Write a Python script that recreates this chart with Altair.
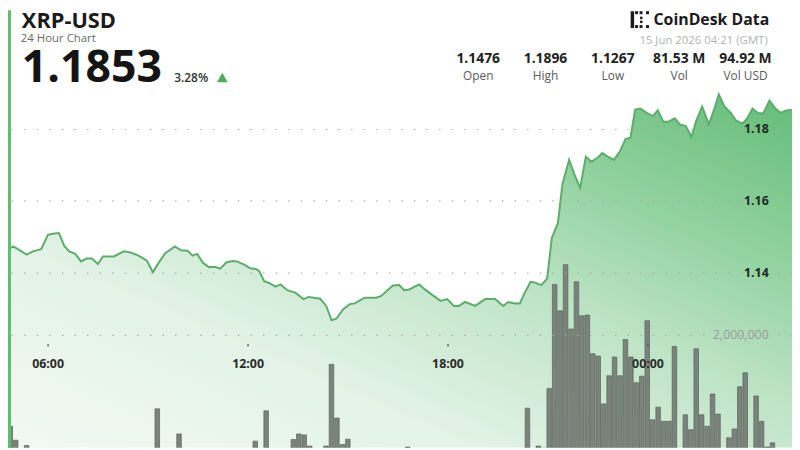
import altair as alt
import pandas as pd

# ---------------- data ----------------
# price line: hours since 00:00 on 14 Jun (values > 24 are 15 Jun)
PRICE_HOURS = [4.35, 4.77, 4.97, 5.17, 5.37, 5.56, 5.81, 6.01, 6.16, 6.34, 6.50, 6.65,
               6.83, 7.00, 7.17, 7.33, 7.51, 7.66, 7.99, 8.29, 8.49, 8.73, 8.98, 9.16,
               9.33, 9.53, 9.82, 10.00, 10.20, 10.35, 10.49, 10.66, 10.84, 11.01, 11.18, 11.36,
               11.55, 11.68, 11.90, 12.08, 12.25, 12.35, 12.50, 12.67, 12.84, 12.99, 13.19, 13.43,
               13.68, 13.83, 14.18, 14.36, 14.52, 14.67, 14.87, 15.07, 15.22, 15.51, 15.86, 16.01,
               16.36, 16.55, 16.70, 16.85, 17.15, 17.35, 17.55, 17.79, 17.99, 18.19, 18.34, 18.53,
               18.83, 19.13, 19.43, 19.67, 19.82, 20.02, 20.17, 20.32, 20.49, 20.63, 20.81, 20.99,
               21.13, 21.31, 21.45, 21.65, 21.80, 21.98, 22.15, 22.32, 22.49, 22.64, 22.81, 22.99,
               23.17, 23.34, 23.49, 23.63, 23.78, 23.98, 24.16, 24.31, 24.48, 24.62, 24.82, 24.97,
               25.15, 25.32, 25.46, 25.64, 25.84, 26.01, 26.14, 26.31, 26.50, 26.65, 26.85, 27.00,
               27.15, 27.30, 27.47, 27.66, 27.84, 27.99, 28.16, 28.35]
PRICE_VALUES = [1.1476, 1.1463, 1.1473, 1.1462, 1.1450, 1.1459, 1.1465, 1.1505, 1.1508, 1.1510, 1.1474, 1.1459,
                1.1452, 1.1431, 1.1439, 1.1439, 1.1424, 1.1445, 1.1445, 1.1459, 1.1456, 1.1447, 1.1433, 1.1401,
                1.1427, 1.1454, 1.1473, 1.1462, 1.1461, 1.1447, 1.1452, 1.1427, 1.1415, 1.1416, 1.1411, 1.1428,
                1.1432, 1.1431, 1.1422, 1.1412, 1.1410, 1.1404, 1.1376, 1.1370, 1.1361, 1.1367, 1.1351, 1.1344,
                1.1326, 1.1332, 1.1327, 1.1307, 1.1267, 1.1272, 1.1298, 1.1312, 1.1314, 1.1330, 1.1330, 1.1335,
                1.1364, 1.1365, 1.1351, 1.1353, 1.1367, 1.1351, 1.1337, 1.1321, 1.1326, 1.1307, 1.1307, 1.1318,
                1.1307, 1.1326, 1.1326, 1.1307, 1.1318, 1.1314, 1.1314, 1.1344, 1.1374, 1.1372, 1.1365, 1.1383,
                1.1497, 1.1537, 1.1647, 1.1714, 1.1675, 1.1636, 1.1723, 1.1709, 1.1719, 1.1733, 1.1723, 1.1714,
                1.1737, 1.1772, 1.1776, 1.1854, 1.1857, 1.1845, 1.1836, 1.1852, 1.1820, 1.1820, 1.1830, 1.1813,
                1.1808, 1.1778, 1.1822, 1.1863, 1.1813, 1.1857, 1.1896, 1.1863, 1.1845, 1.1824, 1.1815, 1.1831,
                1.1857, 1.1845, 1.1843, 1.1879, 1.1857, 1.1845, 1.1852, 1.1853]

# volume: 144 ten-minute bars starting 04:20
VOLUME_VALUES = [
    140000, 511000, 285000, 120000, 198000, 90000, 110000, 80000, 95000, 130000, 70000, 85000,
    100000, 75000, 120000, 90000, 60000, 110000, 80000, 95000, 70000, 105000, 85000, 65000,
    90000, 120000, 75000, 100000, 795000, 140000, 90000, 110000, 387000, 130000, 80000, 95000,
    70000, 115000, 85000, 100000, 60000, 90000, 120000, 75000, 105000, 130000, 269000, 110000,
    763000, 140000, 95000, 80000, 150000, 295000, 387000, 371000, 189000, 120000, 140000, 189000,
    1521000, 645000, 215000, 302000, 130000, 100000, 85000, 120000, 75000, 95000, 110000, 70000,
    90000, 125000, 173000, 100000, 80000, 115000, 65000, 95000, 120000, 85000, 105000, 70000,
    110000, 90000, 130000, 75000, 100000, 120000, 85000, 140000, 95000, 110000, 130000, 150000,
    806000, 140000, 189000, 155000, 1129000, 2823000, 2392000, 3145000, 2097000, 2866000, 2311000, 2323000,
    1694000, 1656000, 876000, 1334000, 1640000, 1334000, 1924000, 1640000, 1221000, 1327000, 2231000, 618000,
    823000, 592000, 592000, 1811000, 150000, 698000, 456000, 1774000, 698000, 511000, 1037000, 710000,
    140000, 323000, 468000, 1156000, 1382000, 150000, 1005000, 592000, 173000, 242000, 130000, 120000,
]
BAR_START_HOUR = 4 + 20 / 60
BAR_MINUTES = 10

TIME_TICKS = [6, 12, 18, 24]
TIME_TICK_LABELS = ["06:00", "12:00", "18:00", "00:00"]
PRICE_TICKS = [1.14, 1.16, 1.18]
VOLUME_TICKS = [2000000]
VOLUME_TICK_LABELS = ["2,000,000"]

TITLE = "XRP-USD"
SUBTITLE = "24 Hour Chart"
LAST_PRICE = "1.1853"
CHANGE = "3.28%"
BRAND = "CoinDesk Data"
TIMESTAMP = "15 Jun 2026 04:21 (GMT)"
STAT_VALUES = ["1.1476", "1.1896", "1.1267", "81.53 M", "94.92 M"]
STAT_LABELS = ["Open", "High", "Low", "Vol", "Vol USD"]

# ---------------- layout ----------------
W, H = 792, 442
FONT = "Open Sans"
X_DOMAIN = [4.81189, 28.33641]
BAR_X_DOMAIN = [4.6651, 28.3637]
PRICE_DOMAIN = [1.091172, 1.213103]
VOL_DOMAIN = [161290, 7290323]

price_df = pd.DataFrame({"h": PRICE_HOURS, "p": PRICE_VALUES})
bar_df = pd.DataFrame({
    "h": [BAR_START_HOUR + (i + 0.5) * BAR_MINUTES / 60 for i in range(len(VOLUME_VALUES))],
    "v": VOLUME_VALUES,
})


def label_expr(values, labels):
    expr = "''"
    for v, l in reversed(list(zip(values, labels))):
        expr = f"datum.value == {v} ? '{l}' : ({expr})"
    return expr


x_axis = alt.Axis(values=TIME_TICKS, labelExpr=label_expr(TIME_TICKS, TIME_TICK_LABELS),
                  orient="bottom", offset=-105, domain=False, grid=False, tickSize=2,
                  tickWidth=1.5, tickColor="#555555", labelFont=FONT, labelFontSize=12.5,
                  labelFontWeight="bold", labelColor="#2a2a2a", labelPadding=12, title=None,
                  zindex=1)
price_axis = alt.Axis(values=PRICE_TICKS, format=".2f", orient="right", offset=-24,
                      domain=False, ticks=False, labelAlign="right", labelBaseline="middle",
                      labelPadding=0, labelFont=FONT, labelFontSize=12.5, labelFontWeight="bold",
                      labelColor="#1d2b21", grid=True, gridColor="#aaaaaa", gridWidth=1.2,
                      gridDash=[1.4, 11.3], title=None, zindex=1)
vol_axis = alt.Axis(values=VOLUME_TICKS, labelExpr=label_expr(VOLUME_TICKS, VOLUME_TICK_LABELS),
                    orient="right", offset=-24, domain=False, ticks=False, labelAlign="right",
                    labelBaseline="middle", labelPadding=0, labelFont=FONT, labelFontSize=12.5,
                    labelColor="#9c9c9c", grid=True, gridColor="#aaaaaa", gridWidth=1.2,
                    gridDash=[1.4, 11.3], title=None, zindex=1)

x_enc = alt.X("h:Q", scale=alt.Scale(domain=X_DOMAIN, nice=False, zero=False), axis=x_axis)
y_enc = alt.Y("p:Q", scale=alt.Scale(domain=PRICE_DOMAIN, nice=False, zero=False), axis=price_axis)

fill = alt.Gradient(
    gradient="linear", x1=0, y1=1, x2=1, y2=0,
    stops=[alt.GradientStop(color="#f2f9f3", offset=0),
           alt.GradientStop(color="#e3f3e6", offset=0.3),
           alt.GradientStop(color="#bfe4c7", offset=0.55),
           alt.GradientStop(color="#93d2a1", offset=0.75),
           alt.GradientStop(color="#64bc78", offset=1)],
)

area = alt.Chart(price_df).mark_area(color=fill, clip=True).encode(
    x=x_enc, y=y_enc, y2=alt.datum(PRICE_DOMAIN[0]))
line = alt.Chart(price_df).mark_line(color="#5cad6c", strokeWidth=2, clip=True).encode(
    x=x_enc, y=y_enc)
price_layer = alt.layer(area, line)

bars = alt.Chart(bar_df).mark_bar(size=4.6, color="#7b847c", stroke="#5a635b",
                                  strokeWidth=0.7, clip=True).encode(
    x=alt.X("h:Q", scale=alt.Scale(domain=BAR_X_DOMAIN, nice=False, zero=False), axis=None),
    y=alt.Y("v:Q", scale=alt.Scale(domain=VOL_DOMAIN, nice=False, zero=False), axis=vol_axis),
)


def txt(s, x, y, size, color, weight="normal", align="left", baseline="alphabetic"):
    return alt.Chart(pd.DataFrame({"t": [s]})).mark_text(
        font=FONT, fontSize=size, fontWeight=weight, color=color, align=align,
        baseline=baseline).encode(text="t:N", x=alt.value(x), y=alt.value(y))


def rect(x1, x2, y1, y2, color):
    return alt.Chart(pd.DataFrame({"a": [0]})).mark_rect(color=color).encode(
        x=alt.value(x1), x2=alt.value(x2), y=alt.value(y1), y2=alt.value(y2))


deco = [
    rect(0, 3, 0, H, "#5cbf6e"),
    txt(TITLE, 14, 18, 22, "#1b1b1b", "bold"),
    txt(SUBTITLE, 13, 32, 11.5, "#6b6b6b"),
    txt(LAST_PRICE, 14, 73, 45, "#141414", "bold"),
    txt(CHANGE, 168, 73, 12, "#333333", 600),
    alt.Chart(pd.DataFrame({"a": [0]})).mark_point(shape="triangle-up", filled=True, size=120,
                                                   color="#4cae5b", opacity=1).encode(
        x=alt.value(216.5), y=alt.value(68)),
    txt(BRAND, 769, 15, 16, "#1b1b1b", "bold", align="right"),
    txt(TIMESTAMP, 767.5, 34, 11.5, "#b3b3b3", align="right"),
]
# logo
for (a, b, c, d) in [(629, 632.5, 1, 18), (633.5, 636.5, 1, 4), (638, 641, 1, 4), (644.5, 647.5, 1, 4),
                     (633.5, 636.5, 15, 18), (638, 641, 15, 18), (644.5, 647.5, 15, 18),
                     (638.5, 641, 6.5, 9), (638.5, 641, 10.5, 13)]:
    deco.append(rect(a, b, c, d, "#1b1b1b"))

stat_x = [475, 543, 611, 678, 745]
for sx, sv, sl in zip(stat_x, STAT_VALUES, STAT_LABELS):
    deco.append(txt(sv, sx, 53, 14, "#222222", "bold", align="center"))
    deco.append(txt(sl, sx, 70.5, 12, "#5a5a5a", align="center"))

chart = alt.layer(price_layer, bars, *deco).resolve_scale(
    x="independent", y="independent"
).properties(
    width=W, height=H, padding=0,
    autosize=alt.AutoSizeParams(type="none"),
    background="white",
).configure_view(stroke=None)

chart.save("out.html", embed_options={"renderer": "svg", "actions": False})
